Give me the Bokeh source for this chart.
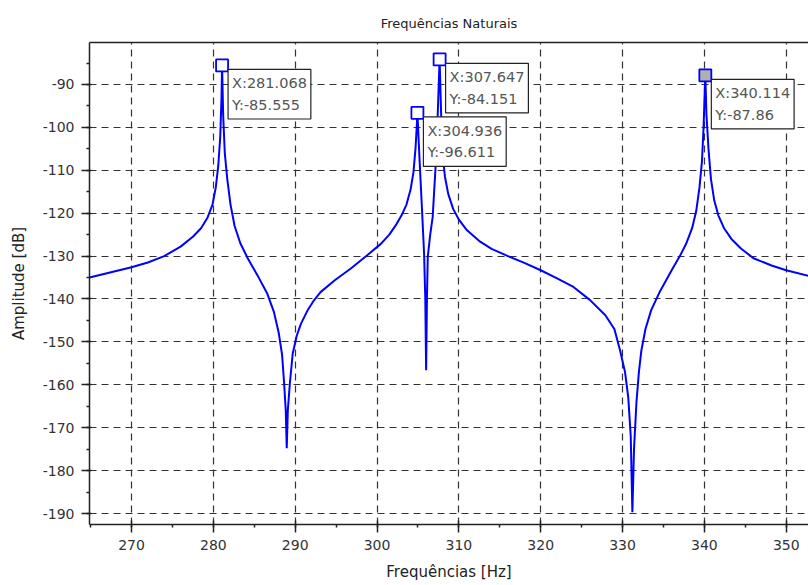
from bokeh.plotting import figure
from bokeh.models import (Range1d, SingleIntervalTicker, LinearAxis, Label, ColumnDataSource,
                          PrintfTickFormatter, FixedTicker)
from bokeh.embed import file_html
from bokeh.resources import INLINE

freq = [264.87, 267, 270, 272, 274, 276, 277.5, 278.5, 279.3, 279.9, 280.3, 280.6, 280.85, 281.0,
        281.068, 281.2, 281.4, 281.7, 282.1, 282.6, 283.3, 284.2, 285.4, 286.6, 287.4, 288.0, 288.4,
        288.65, 288.85, 288.97, 289.1, 289.35, 289.7, 290.2, 290.7, 291.5, 292.3, 293.1, 294.8, 296.8,
        298.8, 300.5, 301.5, 302.3, 303.0, 303.6, 304.1, 304.45, 304.7, 304.85, 304.936, 305.2, 305.5, 305.75, 305.9,
        306.0, 306.1, 306.2, 306.5, 306.8, 307.2, 307.4, 307.647, 307.85, 308.0, 308.3, 308.7, 309.3,
        310.0, 311.0, 312.5, 314, 316, 318, 320, 322, 324, 326, 327.9, 329, 329.7, 330.3, 330.7, 331.0,
        331.2, 331.4, 331.7, 332.0, 332.3, 332.8, 333.5, 334.5, 336, 337, 337.8, 338.5, 339, 339.4,
        339.7, 339.9, 340.0, 340.114, 340.25, 340.5, 340.8, 341.2, 341.7, 342.4, 343.3, 344.5, 346, 348.2, 350, 352.72]
amp = [-135.0, -134.0, -132.6, -131.5, -130.0, -127.8, -125.5, -123.5, -121.0, -118.0, -114.0, -109.0, -102.0, -93.0,
       -85.555, -97, -106, -112, -118, -123, -127, -130.5, -134.5, -138.8, -143.0, -148.0, -153.0,
       -159.7, -166, -174.8, -166, -159.7, -152.7, -148.5, -145.8, -142.7, -140.3, -138.4, -135.7, -132.9,
       -129.8, -127.1, -125.0, -122.8, -120.5, -118.0, -114.5, -110.5, -105.0, -100.0, -96.611, -107.7, -119.3, -129.4, -140,
       -156.6, -140, -130.2, -125, -120.9, -107.7, -98, -84.151, -98, -106, -111.5, -115.5, -119.0,
       -121.5, -124.0, -126.5, -128.3, -130.0, -131.6, -133.3, -135.2, -137.2, -140.2, -143.8, -147, -152, -157, -163, -172,
       -189.7, -175, -164, -157, -152, -147, -142.6, -138.5, -133.3, -130, -127.0, -123.5, -119.5, -114,
       -108, -100, -94, -87.86, -97, -105, -112, -117, -120.5, -123.5, -126.0, -128.3, -130.5, -132.2, -133.3, -134.6]

tip_x = [281.068, 307.647, 304.936, 340.114]
tip_y = [-85.555, -84.151, -96.611, -87.86]
tip_text = ["X:281.068\nY:-85.555", "X:307.647\nY:-84.151", "X:304.936\nY:-96.611", "X:340.114\nY:-87.86"]
tip_fill = ["white", "white", "white", "#b0b0b0"]

p = figure(width=808, height=585, output_backend="svg", toolbar_location=None,
           x_range=Range1d(264.87, 352.72), y_range=Range1d(-192.56, -80.22),
           min_border_left=89, min_border_right=0, min_border_top=42, min_border_bottom=61,
           title="Frequências Naturais")
p.title.align = "center"
p.title.text_font = "DejaVu Sans"
p.title.text_font_size = "13px"
p.title.text_font_style = "normal"
p.title.text_color = "#222222"
p.title.standoff = 24
p.outline_line_color = None
p.background_fill_color = "white"
p.border_fill_color = "white"

for ax, lab in ((p.xaxis[0], "Frequências [Hz]"), (p.yaxis[0], "Amplitude [dB]")):
    ax.ticker = SingleIntervalTicker(interval=10, num_minor_ticks=2)
    ax.formatter = PrintfTickFormatter(format="%d")
    ax.axis_label = lab
    ax.axis_label_text_font = "DejaVu Sans"
    ax.axis_label_text_font_size = "15px"
    ax.axis_label_text_font_style = "normal"
    ax.axis_label_text_color = "#222222"
    ax.major_label_text_font = "DejaVu Sans"
    ax.major_label_text_font_size = "14px"
    ax.major_label_text_color = "#333333"
    ax.axis_line_color = "#222222"
    ax.axis_line_width = 1.5
    ax.major_tick_line_color = "#222222"
    ax.minor_tick_line_color = "#222222"
    ax.major_tick_line_width = 1.5
    ax.minor_tick_line_width = 1.5
    ax.major_tick_out = 8
    ax.minor_tick_out = 3
    ax.minor_tick_in = 0
    ax.major_label_standoff = 7

p.xaxis[0].major_tick_in = 4
p.yaxis[0].major_tick_in = 2
p.xaxis[0].axis_label_standoff = 10
p.yaxis[0].axis_label_standoff = 12

top = LinearAxis(ticker=FixedTicker(ticks=[]), major_tick_line_color=None, minor_tick_line_color=None,
                 axis_line_color="#222222", axis_line_width=1.5)
p.add_layout(top, "above")

for g in (p.xgrid[0], p.ygrid[0]):
    g.ticker = SingleIntervalTicker(interval=10)
    g.grid_line_color = "#333333"
    g.grid_line_dash = "7 5"
    g.grid_line_width = 1.2

src = ColumnDataSource(dict(x=freq, y=amp))
p.line("x", "y", source=src, line_color="#0000ff", line_width=2)

p.scatter(tip_x, tip_y, marker="square", size=12, line_color="#0000ff", line_width=1.8,
          fill_color=tip_fill)

for tx, ty, txt in zip(tip_x, tip_y, tip_text):
    lbl = Label(x=tx, y=ty, x_offset=6, y_offset=-4, text=txt,
                text_font="DejaVu Sans", text_font_size="14.5px", text_color="#555555",
                text_align="left", text_baseline="top", text_line_height=1.35,
                border_line_color="#222222", border_line_width=1.2,
                background_fill_color="white", padding=(4, 6))
    p.add_layout(lbl)

open("out.html", "w").write(file_html(p, INLINE))
